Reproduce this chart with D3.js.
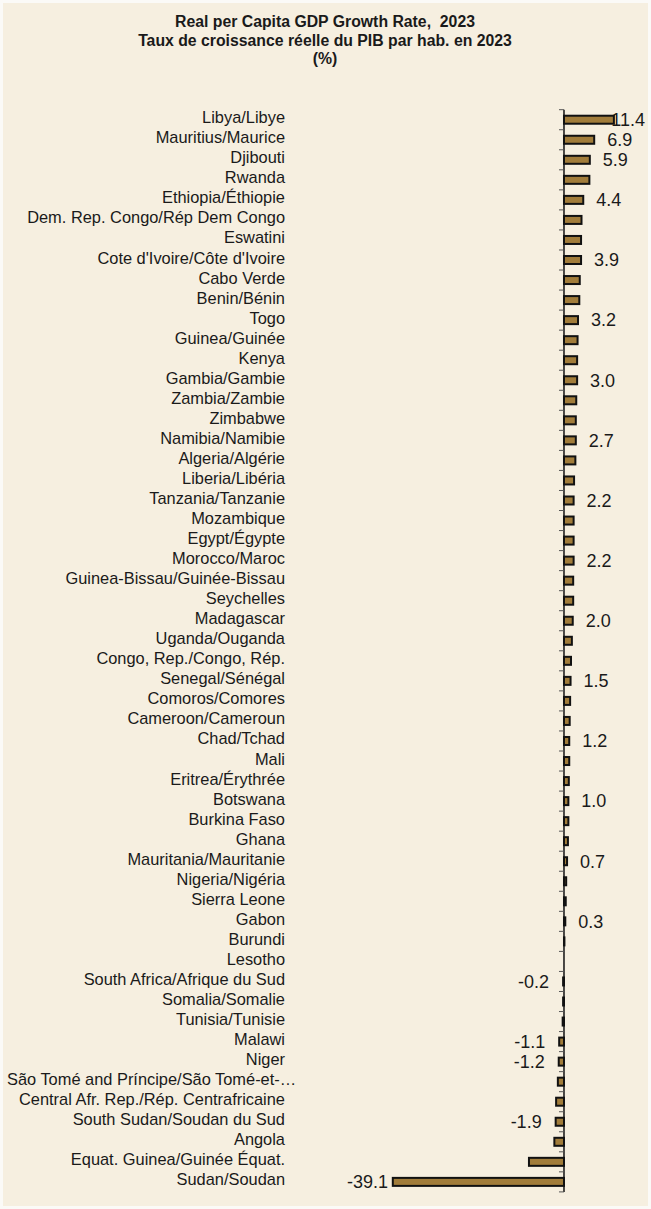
<!DOCTYPE html>
<html lang="en">
<head>
    <meta charset="UTF-8">
    <title>Real per Capita GDP Growth Rate, 2023</title>
    <script src="https://d3js.org/d3.v7.min.js"></script>
    <style>
        body { margin: 0; background: #fbfaf7; }
        text { font-family: "Liberation Sans", Arial, sans-serif; fill: #1a1a1a; white-space: pre; }
    </style>
</head>
<body>
    <div id="chart"></div>
    <script>
        // Chart data, sorted as in the source
        const countries = [
            "Libya/Libye", "Mauritius/Maurice", "Djibouti", "Rwanda", "Ethiopia/Éthiopie",
            "Dem. Rep. Congo/Rép Dem Congo", "Eswatini", "Cote d'Ivoire/Côte d'Ivoire", "Cabo Verde", "Benin/Bénin",
            "Togo", "Guinea/Guinée", "Kenya", "Gambia/Gambie", "Zambia/Zambie",
            "Zimbabwe", "Namibia/Namibie", "Algeria/Algérie", "Liberia/Libéria", "Tanzania/Tanzanie",
            "Mozambique", "Egypt/Égypte", "Morocco/Maroc", "Guinea-Bissau/Guinée-Bissau", "Seychelles",
            "Madagascar", "Uganda/Ouganda", "Congo, Rep./Congo, Rép.", "Senegal/Sénégal", "Comoros/Comores",
            "Cameroon/Cameroun", "Chad/Tchad", "Mali", "Eritrea/Érythrée", "Botswana",
            "Burkina Faso", "Ghana", "Mauritania/Mauritanie", "Nigeria/Nigéria", "Sierra Leone",
            "Gabon", "Burundi", "Lesotho", "South Africa/Afrique du Sud", "Somalia/Somalie",
            "Tunisia/Tunisie", "Malawi", "Niger", "São Tomé and Príncipe/São Tomé-et-Príncipe", "Central Afr. Rep./Rép. Centrafricaine",
            "South Sudan/Soudan du Sud", "Angola", "Equat. Guinea/Guinée Équat.", "Sudan/Soudan"
        ];
        const growth = [
            11.4, 6.9, 5.9, 5.8, 4.4,
            4.0, 3.9, 3.9, 3.6, 3.5,
            3.2, 3.1, 3.0, 3.0, 2.8,
            2.7, 2.7, 2.6, 2.3, 2.2,
            2.2, 2.2, 2.2, 2.1, 2.1,
            2.0, 1.8, 1.6, 1.5, 1.4,
            1.3, 1.2, 1.2, 1.1, 1.0,
            1.0, 0.9, 0.7, 0.5, 0.4,
            0.3, 0.1, 0.0, -0.2, -0.2,
            -0.3, -1.1, -1.2, -1.4, -1.8,
            -1.9, -2.2, -8.0, -39.1
        ];
        // Countries whose value is printed next to the bar
        const labelled = [
            "Libya/Libye", "Mauritius/Maurice", "Djibouti", "Ethiopia/Éthiopie", "Cote d'Ivoire/Côte d'Ivoire",
            "Togo", "Gambia/Gambie", "Namibia/Namibie", "Tanzania/Tanzanie", "Morocco/Maroc",
            "Madagascar", "Senegal/Sénégal", "Chad/Tchad", "Botswana", "Mauritania/Mauritanie",
            "Gabon", "South Africa/Afrique du Sud", "Malawi", "Niger", "South Sudan/Soudan du Sud",
            "Sudan/Soudan"
        ];
        const titleLines = [
            "Real per Capita GDP Growth Rate,  2023",
            "Taux de croissance réelle du PIB par hab. en 2023",
            "(%)"
        ];

        const width = 651;
        const height = 1209;
        const data = countries.map((c, i) => ({ country: c, value: growth[i] }));

        const svg = d3.select("#chart")
            .append("svg")
            .attr("width", width)
            .attr("height", height);

        // beige panel
        svg.append("rect")
            .attr("x", 3).attr("y", 3)
            .attr("width", width - 6).attr("height", height - 6)
            .attr("fill", "#f6efe0");

        // title
        svg.append("g")
            .selectAll("text")
            .data(titleLines)
            .join("text")
            .attr("x", 325)
            .attr("y", (d, i) => 27 + i * 18.5)
            .attr("text-anchor", "middle")
            .attr("font-weight", "bold")
            .attr("font-size", 15.8)
            .text(d => d);

        const x = d3.scaleLinear()
            .domain([d3.min(growth), d3.max(growth)])
            .range([392.8, 613.9]);

        const y = d3.scaleBand()
            .domain(countries)
            .range([109.7, 1191.9])
            .paddingInner(0)
            .paddingOuter(0);

        const x0 = x(0);
        const barH = 8;

        // axis line with ticks on category boundaries
        const axis = svg.append("g");
        axis.append("line")
            .attr("x1", x0).attr("x2", x0)
            .attr("y1", y.range()[0]).attr("y2", y.range()[1])
            .attr("stroke", "#111")
            .attr("stroke-width", 1.5);
        axis.selectAll(".tick")
            .data(d3.range(countries.length + 1))
            .join("line")
            .attr("class", "tick")
            .attr("x1", x0 - 5).attr("x2", x0)
            .attr("y1", i => y.range()[0] + i * y.step())
            .attr("y2", i => y.range()[0] + i * y.step())
            .attr("stroke", "#555")
            .attr("stroke-width", 1);

        // category labels, right aligned; a label too long is cut with an
        // ellipsis and set from the left edge instead
        const maxLabelW = 280;
        svg.append("g")
            .selectAll("text")
            .data(data)
            .join("text")
            .attr("x", 285)
            .attr("y", d => y(d.country) + y.bandwidth() / 2 + 3.5)
            .attr("text-anchor", "end")
            .attr("font-size", 16.4)
            .text(d => d.country)
            .each(function (d) {
                if (this.getComputedTextLength() <= maxLabelW) return;
                const t = d3.select(this).attr("x", 7).attr("text-anchor", "start");
                let s = d.country;
                while (this.getComputedTextLength() > 292 && s.length > 1) {
                    s = s.slice(0, -1);
                    t.text(s + "…");
                }
            });

        // value labels (drawn under the bars, the top one runs into its bar)
        svg.append("g")
            .selectAll("text")
            .data(data.filter(d => labelled.includes(d.country)))
            .join("text")
            .attr("y", d => y(d.country) + y.bandwidth() / 2 + 6.3)
            .attr("font-size", 18)
            .attr("text-anchor", d => d.value < 0 ? "end" : "start")
            .text(d => d.value.toFixed(1))
            .attr("x", function (d) {
                const w = this.getComputedTextLength();
                if (d.value < 0) {
                    return Math.max(x(d.value) - 14, 347 + w);
                }
                return Math.min(x(d.value) + 13, 645 - w);
            });

        // bars
        svg.append("g")
            .selectAll("rect")
            .data(data)
            .join("rect")
            .attr("x", d => Math.min(x(d.value), x0))
            .attr("y", d => y(d.country) + y.bandwidth() / 2 - barH / 2)
            .attr("width", d => Math.abs(x(d.value) - x0))
            .attr("height", barH)
            .attr("fill", "#a17c3a")
            .attr("stroke", "#111")
            .attr("stroke-width", 2);
    </script>
</body>
</html>
